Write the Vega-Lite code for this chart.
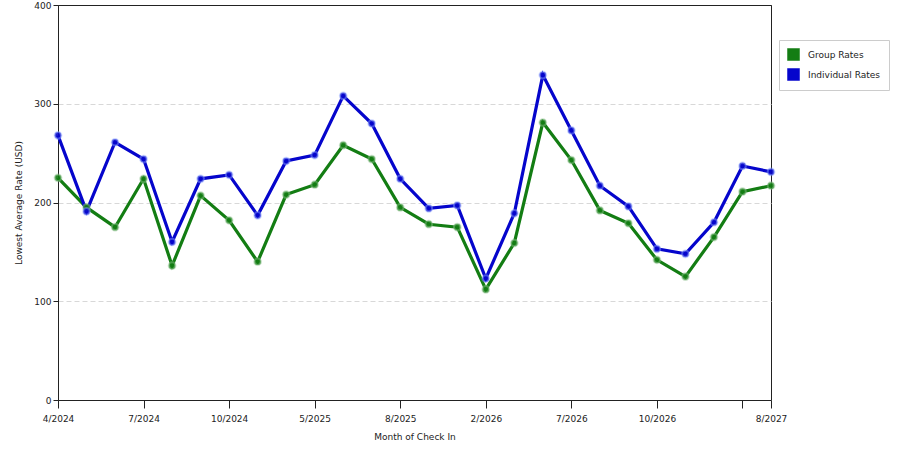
{
  "$schema": "https://vega.github.io/schema/vega-lite/v6.json",
  "autosize": "none",
  "width": 713,
  "height": 395,
  "padding": {"left": 58, "top": 5, "right": 129, "bottom": 50},
  "background": "white",
  "config": {
    "view": {"stroke": "#222", "strokeWidth": 1},
    "font": "DejaVu Sans",
    "axis": {"labelFont": "DejaVu Sans", "titleFont": "DejaVu Sans", "labelFontSize": 9, "titleFontSize": 9, "labelColor": "#222", "titleColor": "#222", "titleFontWeight": "normal", "domainColor": "#222", "tickColor": "#222"},
    "legend": {"labelFont": "DejaVu Sans", "labelFontSize": 9, "labelColor": "#222"}
  },
  "data": {
    "values": [
      {"month": "4/2024", "series": "Group Rates", "rate": 225},
      {"month": "5/2024", "series": "Group Rates", "rate": 195},
      {"month": "6/2024", "series": "Group Rates", "rate": 175},
      {"month": "7/2024", "series": "Group Rates", "rate": 224},
      {"month": "8/2024", "series": "Group Rates", "rate": 136},
      {"month": "9/2024", "series": "Group Rates", "rate": 207},
      {"month": "10/2024", "series": "Group Rates", "rate": 182},
      {"month": "12/2024", "series": "Group Rates", "rate": 140},
      {"month": "3/2025", "series": "Group Rates", "rate": 208},
      {"month": "5/2025", "series": "Group Rates", "rate": 218},
      {"month": "6/2025", "series": "Group Rates", "rate": 258},
      {"month": "7/2025", "series": "Group Rates", "rate": 244},
      {"month": "8/2025", "series": "Group Rates", "rate": 195},
      {"month": "10/2025", "series": "Group Rates", "rate": 178},
      {"month": "12/2025", "series": "Group Rates", "rate": 175},
      {"month": "2/2026", "series": "Group Rates", "rate": 112},
      {"month": "4/2026", "series": "Group Rates", "rate": 159},
      {"month": "6/2026", "series": "Group Rates", "rate": 281},
      {"month": "7/2026", "series": "Group Rates", "rate": 243},
      {"month": "8/2026", "series": "Group Rates", "rate": 192},
      {"month": "9/2026", "series": "Group Rates", "rate": 179},
      {"month": "10/2026", "series": "Group Rates", "rate": 142},
      {"month": "11/2026", "series": "Group Rates", "rate": 125},
      {"month": "12/2026", "series": "Group Rates", "rate": 165},
      {"month": "7/2027", "series": "Group Rates", "rate": 211},
      {"month": "8/2027", "series": "Group Rates", "rate": 217},
      {"month": "4/2024", "series": "Individual Rates", "rate": 268},
      {"month": "5/2024", "series": "Individual Rates", "rate": 191},
      {"month": "6/2024", "series": "Individual Rates", "rate": 261},
      {"month": "7/2024", "series": "Individual Rates", "rate": 244},
      {"month": "8/2024", "series": "Individual Rates", "rate": 160},
      {"month": "9/2024", "series": "Individual Rates", "rate": 224},
      {"month": "10/2024", "series": "Individual Rates", "rate": 228},
      {"month": "12/2024", "series": "Individual Rates", "rate": 187},
      {"month": "3/2025", "series": "Individual Rates", "rate": 242},
      {"month": "5/2025", "series": "Individual Rates", "rate": 248},
      {"month": "6/2025", "series": "Individual Rates", "rate": 308},
      {"month": "7/2025", "series": "Individual Rates", "rate": 280},
      {"month": "8/2025", "series": "Individual Rates", "rate": 224},
      {"month": "10/2025", "series": "Individual Rates", "rate": 194},
      {"month": "12/2025", "series": "Individual Rates", "rate": 197},
      {"month": "2/2026", "series": "Individual Rates", "rate": 123},
      {"month": "4/2026", "series": "Individual Rates", "rate": 189},
      {"month": "6/2026", "series": "Individual Rates", "rate": 329},
      {"month": "7/2026", "series": "Individual Rates", "rate": 273},
      {"month": "8/2026", "series": "Individual Rates", "rate": 217},
      {"month": "9/2026", "series": "Individual Rates", "rate": 196},
      {"month": "10/2026", "series": "Individual Rates", "rate": 153},
      {"month": "11/2026", "series": "Individual Rates", "rate": 148},
      {"month": "12/2026", "series": "Individual Rates", "rate": 180},
      {"month": "7/2027", "series": "Individual Rates", "rate": 237},
      {"month": "8/2027", "series": "Individual Rates", "rate": 231}
    ]
  },
  "encoding": {
    "x": {
      "field": "month",
      "type": "ordinal",
      "sort": null,
      "scale": {"type": "point", "padding": 0},
      "axis": {
        "title": "Month of Check In",
        "values": ["4/2024", "7/2024", "10/2024", "5/2025", "8/2025", "2/2026", "7/2026", "10/2026", "7/2027", "8/2027"],
        "labelExpr": "datum.value == '7/2027' ? '' : datum.value",
        "labelAngle": 0,
        "tickSize": 8,
        "labelPadding": 6,
        "titlePadding": 9,
        "grid": false
      }
    },
    "y": {
      "field": "rate",
      "type": "quantitative",
      "scale": {"domain": [0, 400], "nice": false},
      "axis": {
        "title": "Lowest Average Rate (USD)",
        "values": [0, 100, 200, 300, 400],
        "tickSize": 5,
        "labelPadding": 2,
        "titlePadding": 10,
        "grid": true,
        "gridColor": {"condition": {"test": "datum.value >= 400", "value": "#222"}, "value": "#d8d8d8"},
        "gridDash": {"condition": {"test": "datum.value >= 400", "value": []}, "value": [5, 3]}
      }
    },
    "color": {
      "field": "series",
      "type": "nominal",
      "scale": {"domain": ["Group Rates", "Individual Rates"], "range": ["#137d13", "#0505cc"]},
      "legend": {
        "title": null,
        "orient": "none",
        "legendX": 721,
        "legendY": 35,
        "fillColor": "white",
        "strokeColor": "#cccccc",
        "padding": 8,
        "symbolType": "square",
        "symbolSize": 144,
        "symbolStrokeColor": "#333",
        "symbolStrokeWidth": 0.5,
        "symbolOpacity": 1,
        "rowPadding": 5,
        "labelOffset": 8
      }
    }
  },
  "layer": [
    {"mark": {"type": "line", "strokeWidth": 3.2}},
    {
      "mark": {"type": "point", "filled": true, "size": 45, "opacity": 0.9, "strokeOpacity": 0.5, "strokeWidth": 2},
      "encoding": {
        "stroke": {
          "field": "series",
          "type": "nominal",
          "scale": {"domain": ["Group Rates", "Individual Rates"], "range": ["#8fc48f", "#8fa8ff"]},
          "legend": null
        }
      }
    }
  ]
}
